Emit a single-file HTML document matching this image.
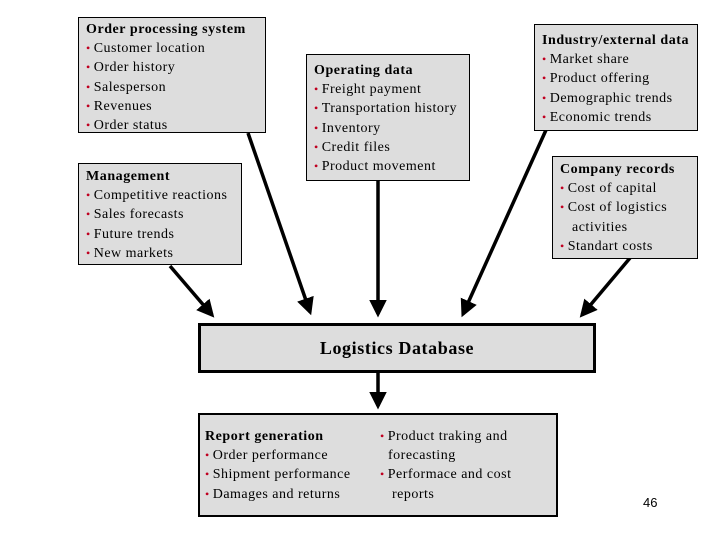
<!DOCTYPE html>
<html><head><meta charset="utf-8"><style>
body{margin:0;width:720px;height:540px;background:#fff;position:relative;overflow:hidden;font-family:"Liberation Serif",serif;font-size:14px;color:#000}
.b{position:absolute;background:#ddd;border:1px solid #000;box-sizing:border-box;padding:2px 0 0 7px;white-space:nowrap}
.b div,.t div{height:19.2px;line-height:19.2px;letter-spacing:0.5px}
.h{font-weight:bold;letter-spacing:0.55px!important}
.d{color:#c00020;font-size:12px;margin-right:3px}
svg{position:absolute;left:0;top:0}
</style></head><body>
<svg width="720" height="540">
<defs><marker id="a" markerWidth="6" markerHeight="6" refX="4" refY="3" orient="auto" markerUnits="strokeWidth"><path d="M0,0.5 L5,3 L0,5.5 Z" fill="#000"/></marker></defs>
<g stroke="#000" stroke-width="3.5" fill="none" marker-end="url(#a)">
<line x1="170" y1="266" x2="212" y2="315"/>
<line x1="248" y1="133" x2="310" y2="312"/>
<line x1="378" y1="180" x2="378" y2="314"/>
<line x1="546" y1="130" x2="463" y2="314"/>
<line x1="630" y1="258" x2="582" y2="315"/>
<line x1="378" y1="372" x2="378" y2="406"/>
</g>
</svg>
<div class="b" style="left:78px;top:17px;width:188px;height:116px"><div class="h">Order processing system</div><div><span class="d">•</span>Customer location</div><div><span class="d">•</span>Order history</div><div><span class="d">•</span>Salesperson</div><div><span class="d">•</span>Revenues</div><div><span class="d">•</span>Order status</div></div>
<div class="b" style="left:78px;top:163px;width:164px;height:102px;padding-top:3px"><div class="h">Management</div><div><span class="d">•</span>Competitive reactions</div><div><span class="d">•</span>Sales forecasts</div><div><span class="d">•</span>Future trends</div><div><span class="d">•</span>New markets</div></div>
<div class="b" style="left:306px;top:54px;width:164px;height:127px;padding-top:6px"><div class="h">Operating data</div><div><span class="d">•</span>Freight payment</div><div><span class="d">•</span>Transportation history</div><div><span class="d">•</span>Inventory</div><div><span class="d">•</span>Credit files</div><div><span class="d">•</span>Product movement</div></div>
<div class="b" style="left:534px;top:24px;width:164px;height:107px;padding-top:6px"><div class="h">Industry/external data</div><div><span class="d">•</span>Market share</div><div><span class="d">•</span>Product offering</div><div><span class="d">•</span>Demographic trends</div><div><span class="d">•</span>Economic trends</div></div>
<div class="b" style="left:552px;top:156px;width:146px;height:103px;padding-top:3px"><div class="h">Company records</div><div><span class="d">•</span>Cost of capital</div><div><span class="d">•</span>Cost of logistics</div><div>&nbsp;&nbsp;&nbsp;activities</div><div><span class="d">•</span>Standart costs</div></div>
<div class="b" style="left:198px;top:323px;width:398px;height:50px;border-width:3px;padding:0;text-align:center;line-height:44px;font-size:18px;letter-spacing:0.6px;font-weight:bold">Logistics Database</div>
<div class="b" style="left:198px;top:413px;width:360px;height:104px;border-width:2px;padding:12px 0 0 5px"><div class="h">Report generation</div><div><span class="d">•</span>Order performance</div><div><span class="d">•</span>Shipment performance</div><div><span class="d">•</span>Damages and returns</div></div>
<div class="t" style="position:absolute;left:380px;top:427px;white-space:nowrap"><div><span class="d">•</span>Product traking and</div><div>&nbsp;&nbsp;forecasting</div><div><span class="d">•</span>Performace and cost</div><div>&nbsp;&nbsp;&nbsp;reports</div></div>
<div style="position:absolute;left:643px;top:495px;font-family:'Liberation Sans',sans-serif;font-size:13px">46</div>
</body></html>
